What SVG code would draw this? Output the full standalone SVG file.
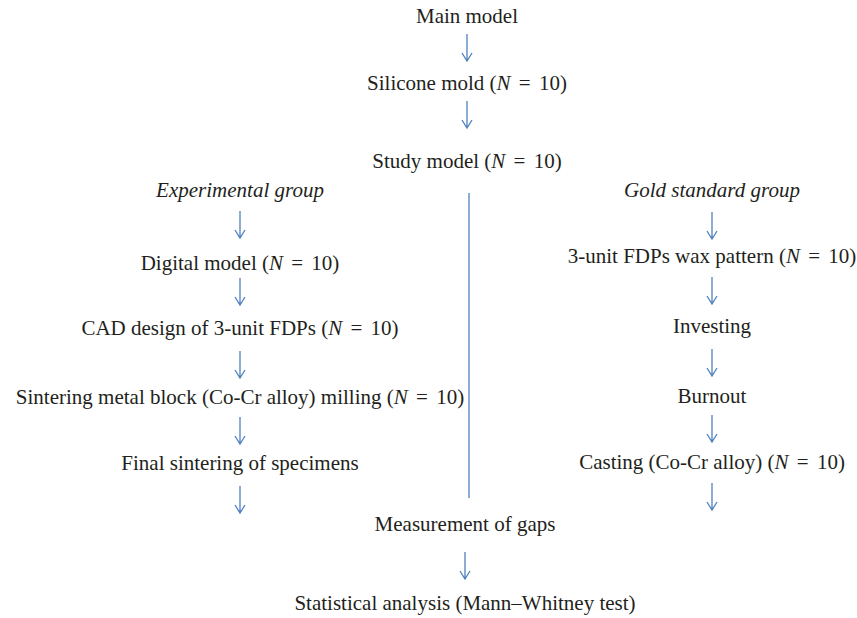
<svg xmlns="http://www.w3.org/2000/svg" width="857" height="618" viewBox="0 0 857 618">
<style>
text{font-family:'Liberation Serif','DejaVu Serif',serif;font-size:21px;fill:#231f20;text-anchor:middle}
.i{font-style:italic}
.c{stroke:#4f81bd;stroke-width:1.3;fill:none}
</style>
<defs>
<g id="arr"><path class="c" d="M0,0 V27 M-5,19 L0,27 L5,19"/></g>
</defs>
<rect width="857" height="618" fill="#fff"/>
<g id="connectors">
<use href="#arr" x="467" y="34"/>
<use href="#arr" x="467" y="101"/>
<path class="c" d="M469,193 V498"/>
<use href="#arr" x="240" y="211"/>
<use href="#arr" x="240" y="278"/>
<use href="#arr" x="240" y="351"/>
<use href="#arr" x="240" y="417"/>
<use href="#arr" x="240" y="486"/>
<use href="#arr" x="712" y="212"/>
<use href="#arr" x="712" y="277"/>
<use href="#arr" x="712" y="349"/>
<use href="#arr" x="712" y="415"/>
<use href="#arr" x="712" y="483"/>
<use href="#arr" x="465" y="552"/>
</g>
<g id="main"><text x="467" y="23">Main model</text></g>
<g id="silicone"><text x="467" y="90">Silicone mold (<tspan class="i">N</tspan> <tspan dx="3">=</tspan> <tspan dx="3">10)</tspan></text></g>
<g id="study"><text x="467" y="168">Study model (<tspan class="i">N</tspan> <tspan dx="3">=</tspan> <tspan dx="3">10)</tspan></text></g>
<g id="exp"><text class="i" x="240" y="197">Experimental group</text></g>
<g id="gold"><text class="i" x="712" y="197">Gold standard group</text></g>
<g id="digital"><text x="240" y="270">Digital model (<tspan class="i">N</tspan> <tspan dx="3">=</tspan> <tspan dx="3">10)</tspan></text></g>
<g id="cad"><text x="240" y="335">CAD design of 3-unit FDPs (<tspan class="i">N</tspan> <tspan dx="3">=</tspan> <tspan dx="3">10)</tspan></text></g>
<g id="sinter"><text x="240" y="404">Sintering metal block (Co-Cr alloy) milling (<tspan class="i">N</tspan> <tspan dx="3">=</tspan> <tspan dx="3">10)</tspan></text></g>
<g id="final"><text x="240" y="470">Final sintering of specimens</text></g>
<g id="wax"><text x="712" y="263">3-unit FDPs wax pattern (<tspan class="i">N</tspan> <tspan dx="3">=</tspan> <tspan dx="3">10)</tspan></text></g>
<g id="investing"><text x="712" y="333">Investing</text></g>
<g id="burnout"><text x="712" y="403">Burnout</text></g>
<g id="casting"><text x="712" y="469">Casting (Co-Cr alloy) (<tspan class="i">N</tspan> <tspan dx="3">=</tspan> <tspan dx="3">10)</tspan></text></g>
<g id="measure"><text x="465" y="531">Measurement of gaps</text></g>
<g id="stat"><text x="465" y="610">Statistical analysis (Mann–Whitney test)</text></g>
</svg>
